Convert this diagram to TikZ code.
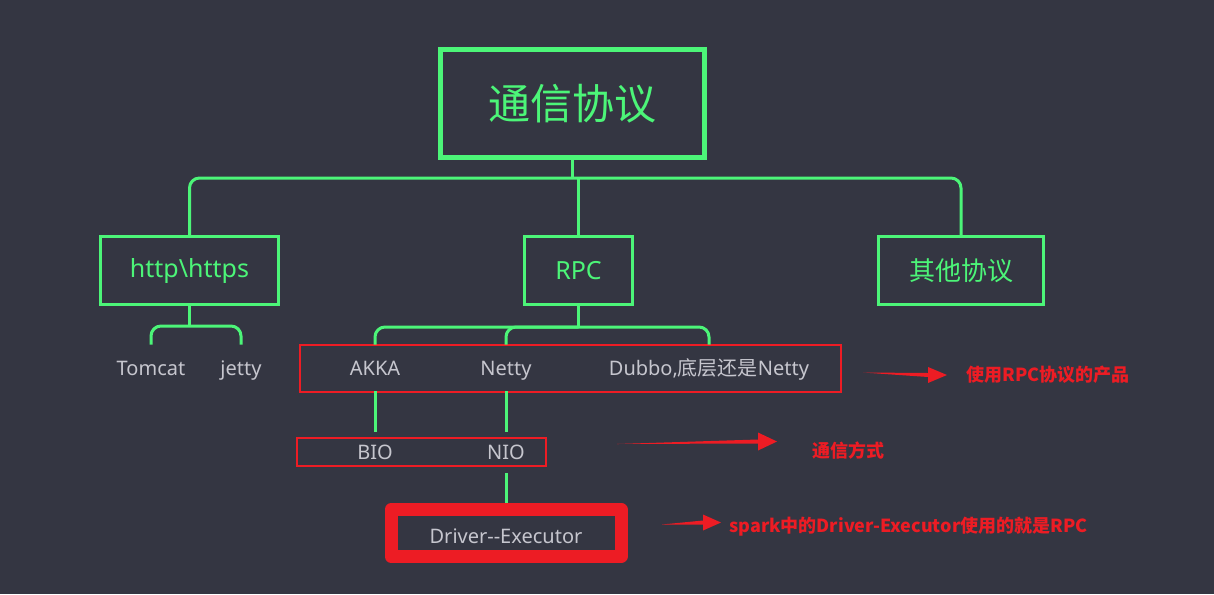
\documentclass[tikz,border=0pt]{standalone}
\usepackage{fontspec}
\setmainfont{Noto Sans}
\newfontfamily\cjk{Noto Sans CJK SC}
\usetikzlibrary{calc}
\definecolor{bg}{RGB}{52,54,66}
\definecolor{mint}{RGB}{76,245,120}
\definecolor{alert}{RGB}{237,28,36}
\definecolor{ash}{RGB}{198,198,206}
\tikzset{
	box/.style={draw=mint,line width=1.5pt,text=mint,inner sep=0pt},
	link/.style={draw=mint,line width=1.5pt,rounded corners=5pt},
	item/.style={text=ash,inner sep=0pt,font=\fontsize{10}{12}\selectfont,text height=9pt,text depth=2pt,minimum height=23pt},
	redbox/.style={draw=alert,line width=1pt,inner sep=0pt},
	note/.style={text=alert,anchor=west,inner sep=0pt,font=\cjk\bfseries\fontsize{9}{11}\selectfont},
	pointer/.style={fill=alert}
}
\begin{document}
\begin{tikzpicture}[x=0.5pt,y=-0.5pt]
		\fill[bg] (0,0) rectangle (1214,594);
		% top and second level
		\node[box,line width=2.5pt,minimum width=132pt,minimum height=54pt,font=\cjk\fontsize{21}{25}\selectfont] (title) at (572,103.5) {通信协议};
		\node[box,minimum width=89pt,minimum height=34pt,font=\fontsize{12.5}{15}\selectfont] (http) at (189.5,270.5) {http\textbackslash https};
		\node[box,minimum width=54pt,minimum height=34pt,font=\fontsize{12.5}{15}\selectfont] (rpc) at (578.5,270.5) {RPC};
		\node[box,minimum width=82.5pt,minimum height=34pt,font=\cjk\fontsize{13}{15}\selectfont] (other) at (961,270.5) {其他协议};
		\draw[link] (title.south) -- ++(0,18) coordinate (bus);
		\draw[link] (http.north) |- (bus) -| (other.north);
		\draw[link] (rpc.north) -- (rpc.north |- bus);
		% products
		\node[item] (tomcat) at (151,368) {Tomcat};
		\node[item] (jetty) at (241,368) {jetty};
		\node[redbox,minimum width=270.5pt,minimum height=23.5pt] (products) at (570.5,368.5) {};
		\node[item] (akka) at (375,368) {AKKA};
		\node[item] (netty) at (506,368) {Netty};
		\node[item] (dubbo) at (709,368) {Dubbo,{\cjk 底层还是}Netty};
		\draw[link] (http.south) -- ++(0,20) coordinate (hfork);
		\draw[link] (tomcat.north) |- (hfork) -| (jetty.north);
		\draw[link] (rpc.south) -- ++(0,21) coordinate (rfork);
		\draw[link] (akka.north) |- (rfork) -| (dubbo.north);
		\draw[link] (netty.north) |- (rfork);
		% io
		\node[redbox,minimum width=124.5pt,minimum height=14pt] (ways) at (421.5,452) {};
		\node[item,minimum height=14pt] (bio) at (375,452) {BIO};
		\node[item,minimum height=14pt] (nio) at (506,452) {NIO};
		\node[item,draw=alert,line width=6.5pt,line join=round,text height=12pt,minimum width=115pt,minimum height=23.5pt] (driver) at (506,533) {Driver-{}-Executor};
		\draw[link] (akka.south) -- ([yshift=3pt]bio.north);
		\draw[link] (netty.south) -- ([yshift=3pt]nio.north);
		\draw[link] ([yshift=-3.5pt]nio.south) -- (driver.north);
		% notes
		\coordinate (t1) at (863,372.5);
		\coordinate (h1) at (947,375);
		\coordinate (t2) at (617,444);
		\coordinate (h2) at (777,441.5);
		\coordinate (t3) at (662,524.5);
		\coordinate (h3) at (721,522.5);
		\fill[pointer] (t1) -- ($(h1)+(-19,-2)$) -- ($(h1)+(-19,-8)$) -- (h1) -- ($(h1)+(-19,8)$) -- ($(h1)+(-19,2)$) -- cycle;
		\fill[pointer] (t2) -- ($(h2)+(-19,-2)$) -- ($(h2)+(-19,-9)$) -- (h2) -- ($(h2)+(-19,9)$) -- ($(h2)+(-19,2)$) -- cycle;
		\fill[pointer] (t3) -- ($(h3)+(-18,-2)$) -- ($(h3)+(-18,-8)$) -- (h3) -- ($(h3)+(-18,8)$) -- ($(h3)+(-18,2)$) -- cycle;
		\node[note] (n1) at (966,375) {使用RPC协议的产品};
		\node[note] (n2) at (812,451) {通信方式};
		\node[note] (n3) at (729,527) {spark中的Driver-Executor使用的就是RPC};
\end{tikzpicture}
\end{document}
